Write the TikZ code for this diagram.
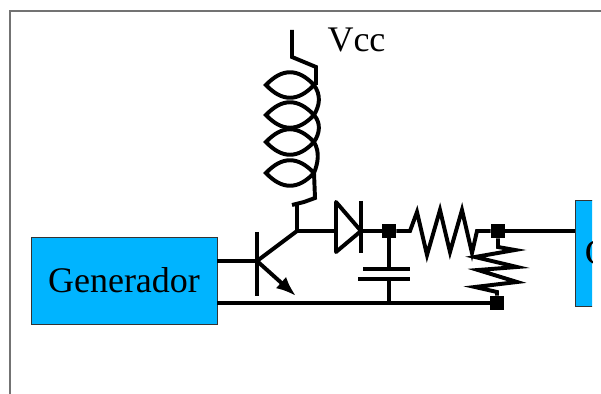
\documentclass[tikz,border=0pt]{standalone}
\usepackage{fontspec}
\usetikzlibrary{arrows.meta}
\setmainfont{Liberation Serif}
\definecolor{boxblue}{RGB}{0,180,255}
\tikzset{
  wire/.style={line width=2.8pt},
  block/.style={draw=black!80, line width=0.6pt, fill=boxblue, inner sep=0pt, font=\fontsize{25.6}{30}\selectfont},
  dot/.style={fill=black, inner sep=0pt, minimum size=0.36cm}
}
\begin{document}
\begin{tikzpicture}[x=0.025cm, y=-0.025cm]
\useasboundingbox (0,0) rectangle (601,394);
\draw [black!55, line width=0.9pt] (601,11) -- (10,11) -- (10,394);
\begin{scope}
\clip (0,0) rectangle (592,394);
\node [block, minimum width=4.65cm, minimum height=2.175cm] (gen) at (124,280.5) {Generador};
\node [block, minimum width=2cm, minimum height=2.65cm, text width=1.5cm] (load) at (615,253) {G};
\end{scope}
\node (vcc) at (356.5,40) {\fontsize{25.6}{30}\selectfont Vcc};
\node [dot] (n1) at (389,231) {};
\node [dot] (n2) at (498,231) {};
\node [dot] (n3) at (497,303) {};
\coordinate (b) at (257,261);
\coordinate (c) at (297,231);
\coordinate (e) at (296,296);
\coordinate (k) at (336,231);
\coordinate (a) at (361,231);
\draw [wire] (gen.east |- b) -- (b);
\draw [wire] (gen.east |- n3) -- (n3);
\draw [wire] (257,232) -- (257,296);
\draw [wire] (b) -- (c);
\draw [wire, -{Latex[length=0.5cm,width=0.38cm]}] (b) -- (e);
\draw [wire] (c) -- (k);
\draw [wire, line join=round] (k) -- (336,202) -- (a) -- (336,252) -- (k);
\draw [wire] (361,201) -- (361,253);
\draw [wire] (a) -- (n1);
\draw [wire] (n1) -- (389,269);
\draw [wire] (363,269) -- (410,269);
\draw [wire] (358,279) -- (410,279);
\draw [wire] (389,279) -- (389,303);
\draw [wire] (n1) -- (410,231) -- (417,212) -- (427,255) -- (440,210) -- (450,252) -- (462,210) -- (472,253) -- (477,231) -- (n2);
\draw [wire] (n2) -- (498,247) -- (515,250) -- (475,257) -- (517,267) -- (478,270) -- (517,282) -- (475,287) -- (497,292) -- (n3);
\draw [wire] (n2) -- (load.west |- n2);
\draw [wire] (292,30) -- (292,57) -- (316,67) -- (316,85);
\foreach \y in {85,115,142,173} {
  \draw [wire] (314,\y) .. controls (298,\y-17) and (282,\y-17) .. (266,\y) .. controls (282,\y+17) and (298,\y+17) .. (314,\y);
}
\draw [wire] (314,85) .. controls (321,95) and (320,105) .. (314,115) .. controls (321,123) and (320,133) .. (314,142) .. controls (320,152) and (318,163) .. (314,173);
\draw [wire] (314,173) -- (315,198) -- (304,202) -- (292,205);
\draw [wire] (297,205) -- (c);
\end{tikzpicture}
\end{document}
